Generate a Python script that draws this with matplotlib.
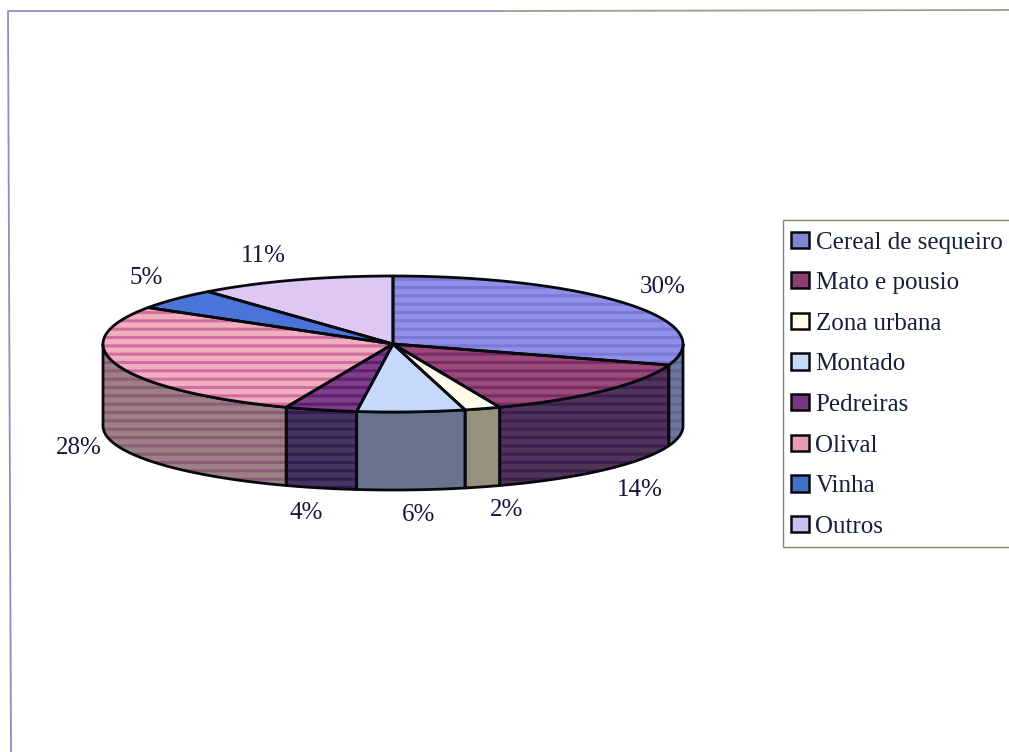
import numpy as np
import matplotlib as mpl
import matplotlib.pyplot as plt
from matplotlib.patches import Polygon, Patch, Rectangle

categories = ['Cereal de sequeiro', 'Mato e pousio', 'Zona urbana', 'Montado',
              'Pedreiras', 'Olival', 'Vinha', 'Outros']
shares = [30, 14, 2, 6, 4, 28, 5, 11]
top_colors = ['#8f90e8', '#9a4a78', '#fffbea', '#c6d9fb',
              '#7d4088', '#f0aebe', '#4a74d8', '#dcc8f2']
stripe_colors = ['#7b78d8', '#7d2a68', None, None,
                 '#5e1f70', '#cf6ea0', None, None]
side_colors = ['#6e789f', '#4f3358', '#97927e', '#69738c',
               '#463460', '#9c8084', '#3a4f80', '#8a7fa0']
side_stripes = ['#5c6690', '#3c1f50', None, None,
                '#321c52', '#8a5c78', None, None]
legend_colors = ['#7f86d8', '#8c3f70', '#fffbea', '#c6d9fb',
                 '#74387f', '#e89cb0', '#3f72c8', '#c8c0ee']

# text positions in picture pixels, same order as the slices
label_pos = [(663, 287), (640, 490), (507, 510), (419, 515),
             (306, 513), (79, 448), (146, 278), (263, 256)]

# pie geometry in picture pixels
CX, CY, RX, RY = 393, 344, 290, 68
BOTTOM_CY, BOTTOM_RY = 426, 64
INK = '#14143c'
SERIF = 'Liberation Serif'
mpl.rcParams['hatch.linewidth'] = 2.2


def rim(theta):
    # theta in degrees, clockwise from the top of the ellipse
    t = np.radians(theta)
    return CX + RX * np.sin(t), CY - RY * np.cos(t)


def bottom_rim(theta):
    t = np.radians(theta)
    return CX + RX * np.sin(t), BOTTOM_CY - BOTTOM_RY * np.cos(t)


def fill_shape(ax, pts, color, stripe, zorder):
    if stripe:
        ax.add_patch(Polygon(pts, closed=True, facecolor=color, edgecolor=stripe,
                             hatch='--', lw=0, zorder=zorder))
    else:
        ax.add_patch(Polygon(pts, closed=True, facecolor=color, edgecolor='none',
                             zorder=zorder))
    ax.add_patch(Polygon(pts, closed=True, fill=False, edgecolor='#08080f',
                         lw=2.0, joinstyle='round', zorder=zorder + 0.5))


def draw_pie(ax):
    edges = np.concatenate([[0], np.cumsum(shares)]) * 3.6

    # side wall, only the front half of the rim can be seen
    for i in range(len(shares)):
        a = max(edges[i], 90)
        b = min(edges[i + 1], 270)
        if a >= b:
            continue
        th = np.linspace(a, b, 60)
        x1, y1 = rim(th)
        x2, y2 = bottom_rim(th[::-1])
        pts = np.column_stack([np.r_[x1, x2], np.r_[y1, y2]])
        fill_shape(ax, pts, side_colors[i], side_stripes[i], 2)

    # top face
    for i in range(len(shares)):
        th = np.linspace(edges[i], edges[i + 1], 80)
        x, y = rim(th)
        pts = np.column_stack([np.r_[CX, x], np.r_[CY, y]])
        fill_shape(ax, pts, top_colors[i], stripe_colors[i], 3)


def main():
    fig = plt.figure(figsize=(10.09, 7.52), dpi=100)
    ax = fig.add_axes([0, 0, 1, 1])
    ax.set_xlim(0, 1009)
    ax.set_ylim(752, 0)
    ax.axis('off')

    # page frame, the scan is a little skewed and has no bottom line
    ax.plot([11, 8, 500], [752, 11, 11], color='#8f8dbb', lw=1.3)
    ax.plot([500, 1009], [11, 10], color='#93a388', lw=1.3)

    draw_pie(ax)

    for share, (x, y) in zip(shares, label_pos):
        ax.text(x, y, f'{share}%', family=SERIF, fontsize=18, color=INK,
                ha='center', va='center', zorder=5)

    # legend box runs off the right edge of the scan, so it is drawn apart
    ax.add_patch(Rectangle((783, 220), 240, 327, facecolor='white',
                           edgecolor='#7f8a68', lw=1.0, zorder=4))
    handles = [Patch(facecolor=c, edgecolor='#08080f', lw=1.8) for c in legend_colors]
    leg = ax.legend(handles, categories, loc='upper left', bbox_to_anchor=(783, 224),
                    bbox_transform=ax.transData, frameon=False, borderaxespad=0,
                    borderpad=0.3, labelspacing=0.745, handlelength=0.72,
                    handleheight=0.62, handletextpad=0.28,
                    prop={'family': SERIF, 'size': 18})
    leg.set_zorder(6)
    for t in leg.get_texts():
        t.set_color('#12203a')

    plt.savefig('out.png', dpi=100)


if __name__ == "__main__":
    main()
